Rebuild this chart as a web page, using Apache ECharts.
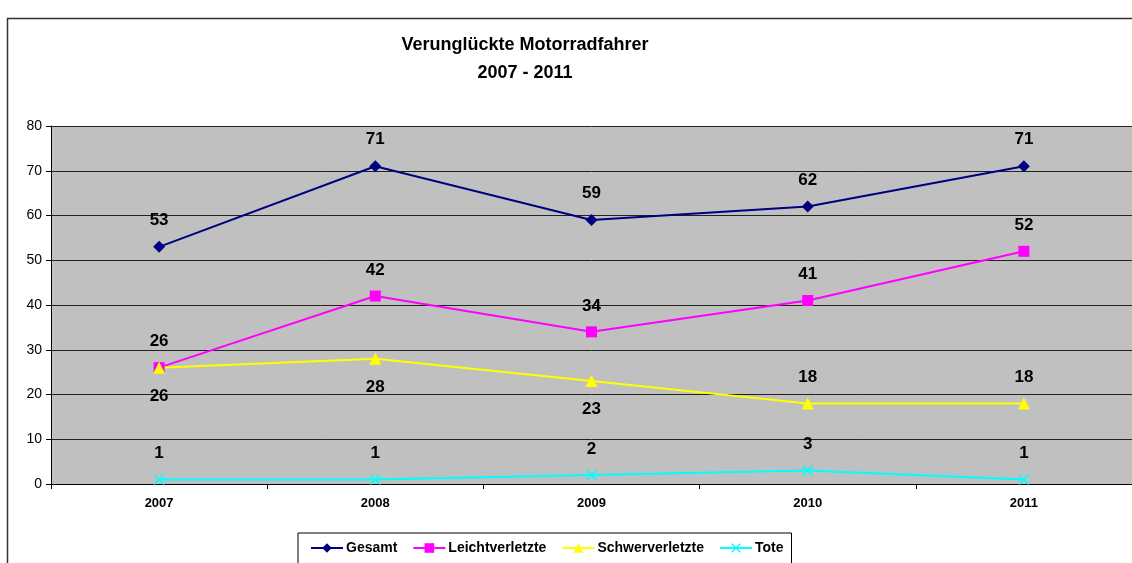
<!DOCTYPE html>
<html>
<head>
<meta charset="utf-8">
<script src="https://cdn.jsdelivr.net/npm/echarts@6/dist/echarts.min.js"></script>
<style>
  html, body { margin: 0; padding: 0; background: #fff; }
  #chart { width: 1132px; height: 563px; }
</style>
</head>
<body>
<div id="chart"></div>
<script>
var years = ['2007', '2008', '2009', '2010', '2011'];
var gesamt = [53, 71, 59, 62, 71];
var leicht = [26, 42, 34, 41, 52];
var schwer = [26, 28, 23, 18, 18];
var tote = [1, 1, 2, 3, 1];

var crossPath = 'path://M0,1L1,0L5,4L9,0L10,1L6,5L10,9L9,10L5,6L1,10L0,9L4,5Z';
var lblFont = { fontFamily: 'Liberation Sans, Arial, sans-serif', fontWeight: 'bold', fontSize: 17, color: '#000' };

function mkSeries(name, data, color, symbol, size, labelPos) {
    return {
        name: name,
        type: 'line',
        data: data.map(function (v, i) {
            var pos = labelPos ? labelPos(i) : 'top';
            return { value: v, label: { position: pos, distance: pos === 'top' ? 12 : 14 } };
        }),
        symbol: symbol,
        symbolSize: size,
        lineStyle: { color: color, width: 2 },
        itemStyle: { color: color },
        label: Object.assign({ show: true }, lblFont),
        emphasis: { disabled: true },
        animation: false
    };
}

var chart = echarts.init(document.getElementById('chart'));
chart.setOption({
    animation: false,
    title: {
        text: 'Verunglückte Motorradfahrer\n2007 - 2011',
        left: 520,
        textAlign: 'center',
        top: 26,
        textStyle: { fontFamily: 'Liberation Sans, Arial, sans-serif', fontWeight: 'bold', fontSize: 18, lineHeight: 28, color: '#000' }
    },
    graphic: [{
        type: 'rect',
        shape: { x: 7.5, y: 18.5, width: 1140, height: 560 },
        style: { fill: 'none', stroke: '#333', lineWidth: 1.5 },
        silent: true,
        z: -1
    }],
    grid: { left: 51, top: 126, width: 1082, height: 358, backgroundColor: '#C0C0C0', show: true, borderWidth: 0 },
    legend: {
        bottom: -4,
        left: 298,
        data: ['Gesamt', 'Leichtverletzte', 'Schwerverletzte', 'Tote'],
        itemWidth: 32,
        itemHeight: 12,
        itemGap: 15,
        padding: [8, 8, 12, 12],
        borderColor: '#000',
        borderWidth: 1,
        backgroundColor: '#fff',
        textStyle: { fontFamily: 'Liberation Sans, Arial, sans-serif', fontWeight: 'bold', fontSize: 14, color: '#000', padding: [0, 0, 0, -2] }
    },
    xAxis: {
        type: 'category',
        data: years,
        boundaryGap: true,
        axisLine: { lineStyle: { color: '#000', width: 1 } },
        axisTick: { show: true, length: 5, inside: false, lineStyle: { color: '#000' } },
        axisLabel: { margin: 13, fontFamily: 'Liberation Sans, Arial, sans-serif', fontWeight: 'bold', fontSize: 13, color: '#000' }
    },
    yAxis: {
        type: 'value',
        min: 0,
        max: 80,
        interval: 10,
        axisLine: { show: true, lineStyle: { color: '#000', width: 1 } },
        axisTick: { show: true, length: 5, lineStyle: { color: '#000' } },
        splitLine: { lineStyle: { color: '#222', width: 1 } },
        axisLabel: { margin: 9, fontFamily: 'Liberation Sans, Arial, sans-serif', fontSize: 14, color: '#000' }
    },
    series: [
        mkSeries('Gesamt', gesamt, '#000080', 'diamond', 12),
        mkSeries('Leichtverletzte', leicht, '#FF00FF', 'rect', 11),
        mkSeries('Schwerverletzte', schwer, '#FFFF00', 'triangle', 12, function (i) { return i < 3 ? 'bottom' : 'top'; }),
        mkSeries('Tote', tote, '#00FFFF', crossPath, 11)
    ]
});
</script>
</body>
</html>
